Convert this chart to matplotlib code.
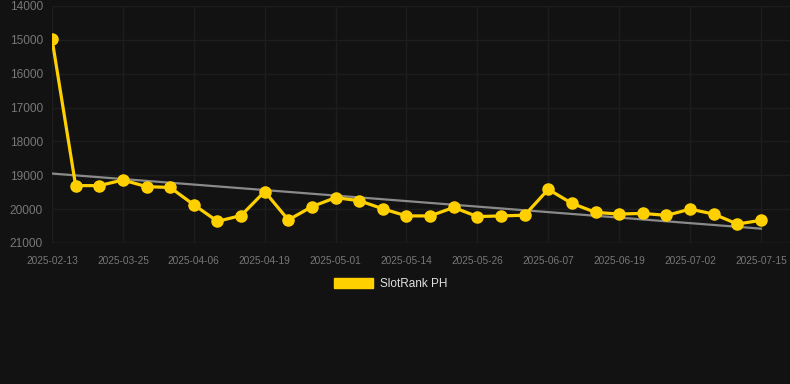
import numpy as np
import matplotlib
matplotlib.use("Agg")
import matplotlib.pyplot as plt
from matplotlib.patches import Patch

plt.rcParams['font.family'] = ['Liberation Sans', 'DejaVu Sans']

# dates shown on the x axis (only every third one gets a label)
dates = ['2025-02-13', '2025-03-13', '2025-03-19', '2025-03-25', '2025-03-29',
         '2025-04-02', '2025-04-06', '2025-04-10', '2025-04-15', '2025-04-19',
         '2025-04-23', '2025-04-27', '2025-05-01', '2025-05-05', '2025-05-10',
         '2025-05-14', '2025-05-18', '2025-05-22', '2025-05-26', '2025-05-30',
         '2025-06-03', '2025-06-07', '2025-06-11', '2025-06-15', '2025-06-19',
         '2025-06-23', '2025-06-28', '2025-07-02', '2025-07-06', '2025-07-11',
         '2025-07-15']
rank = [14975, 19305, 19305, 19140, 19335, 19360, 19870, 20360, 20190, 19480,
        20320, 19925, 19660, 19750, 19990, 20200, 20200, 19950, 20220, 20200,
        20180, 19415, 19830, 20095, 20145, 20125, 20185, 20000, 20145, 20440,
        20330]
yticks = [14000, 15000, 16000, 17000, 18000, 19000, 20000, 21000]

bg = '#121212'
yellow = '#FFD000'

fig = plt.figure(figsize=(7.9, 3.84), dpi=100, facecolor=bg)
ax = fig.add_axes([52/790, (384-243)/384, (790-52)/790, 237/384])
ax.set_facecolor(bg)

x = np.arange(len(rank))
# trend line (least squares)
k, b = np.polyfit(x, rank, 1)
ax.plot(x, k*x + b, color='#8a8a8a', lw=1.6, zorder=2)
ax.plot(x, rank, color=yellow, lw=2.3, marker='o', ms=8, zorder=3)

ax.set_ylim(21000, 14000)
ax.set_yticks(yticks)
ax.set_xlim(0, 30 + 29/23.6)
ax.set_xticks(x[::3])
ax.set_xticklabels(dates[::3])

ax.grid(True, color='#1d1d1d', lw=1)
for s in ax.spines.values():
    s.set_visible(False)
ax.tick_params(axis='y', colors='#777777', labelsize=8.6, length=0, pad=6.5)
ax.tick_params(axis='x', colors='#777777', labelsize=7.3, length=0, pad=9.5)
ax.axhline(21000, color='#2a2a2a', lw=1)

fig.legend(handles=[Patch(facecolor=yellow, edgecolor=yellow, label='SlotRank PH')],
           loc='center', bbox_to_anchor=(391/790, 1 - 284/384), frameon=False,
           handlelength=3.3, handleheight=1.0, handletextpad=0.6,
           fontsize=8.5, labelcolor='#e0e0e0')

fig.savefig('out.png', dpi=100, facecolor=bg)
